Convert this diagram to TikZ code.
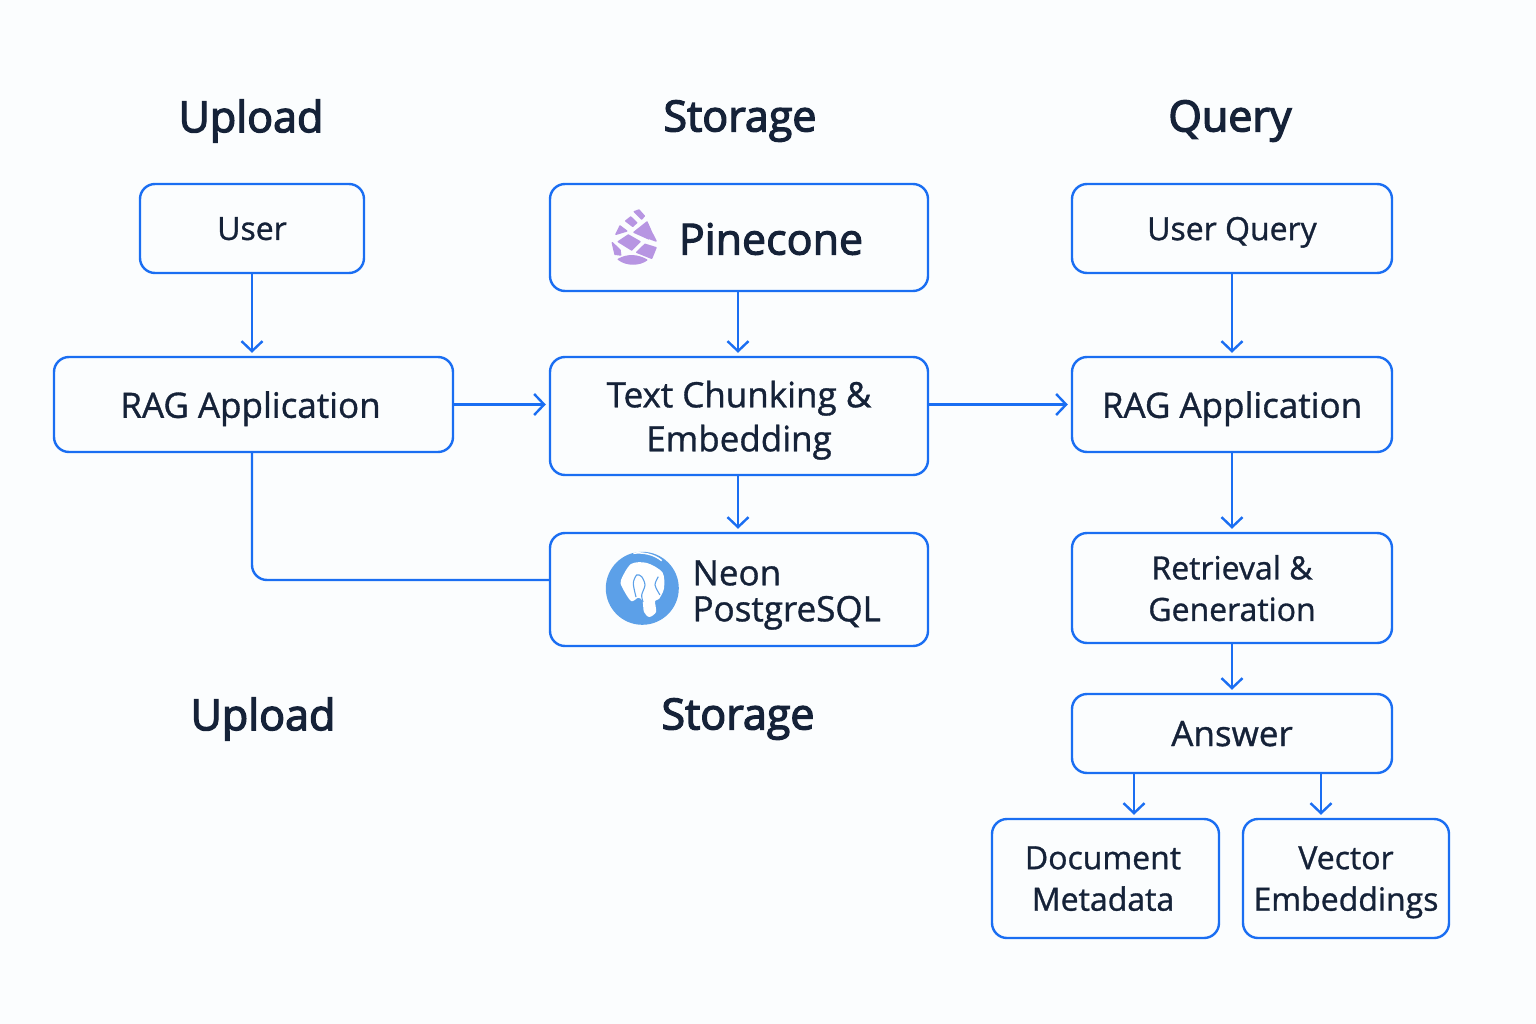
\documentclass[tikz,border=0pt]{standalone}
\usepackage{fontspec}
\setmainfont{Open Sans}
\usetikzlibrary{arrows.meta, positioning}
\usepackage{xcolor}
\definecolor{boxblue}{HTML}{1A6EF2}
\definecolor{inkdark}{HTML}{152238}
\definecolor{pagetint}{HTML}{FBFDFE}
\definecolor{conepurple}{HTML}{B795E2}
\definecolor{neonblue}{HTML}{5CA0E8}

\begin{document}
\begin{tikzpicture}[
x=1pt, y=-1pt,
node distance=84pt,
box/.style={draw=boxblue,
rectangle,
rounded corners=15pt,
line width=2.4pt,
text=inkdark,
text depth=0pt,
align=center,
inner sep=0pt},
arrow/.style={-{Straight Barb[length=10pt,width=21pt]}, draw=boxblue, line width=2.4pt, shorten >=3pt},
plain/.style={draw=boxblue, line width=2.4pt, rounded corners=15pt},
heading/.style={text=inkdark, font=\fontsize{43}{50}\selectfont\addfontfeature{FakeBold=3}},
small/.style={font=\fontsize{32}{41.5}\selectfont\addfontfeature{FakeBold=1}},
middle/.style={font=\fontsize{35}{44}\selectfont\addfontfeature{FakeBold=1}},
large/.style={font=\fontsize{43}{50}\selectfont\addfontfeature{FakeBold=2.5}}
]

\fill[pagetint] (0,0) rectangle (1536,1024);
\useasboundingbox (0,0) rectangle (1536,1024);

% upload column
\node[heading] (headupload) at (251,121) {Upload};
\node[box, small, minimum width=224pt, minimum height=89pt] (user) at (252,228.5) {User};
\node[box, middle, minimum width=399pt, minimum height=95pt] (ragupload) at (253.5,404.5) {\hspace*{-6pt}RAG Application};
\node[heading] (headuploadlow) at (263,719) {Upload};

% storage column
\node[heading] (headstorage) at (740,121) {Storage};
\node[box, minimum width=378pt, minimum height=107pt] (pinecone) at (739,237.5) {};
\node[large, text=inkdark] (pineconetext) at (771,239) {Pinecone};
\node[box, middle, minimum width=378pt, minimum height=118pt, below=63.6pt of pinecone] (chunk) {Text Chunking \&\\Embedding};
\node[box, minimum width=378pt, minimum height=113pt, below=55.6pt of chunk] (neon) {};
\node[text=inkdark, align=left, anchor=west, font=\fontsize{35}{36}\selectfont\addfontfeature{FakeBold=1}] (neontext) at (689,595) {Neon\\PostgreSQL};
\node[heading] (headstoragelow) at (738,719) {Storage};

% query column
\node[heading] (headquery) at (1230,121) {Query};
\node[box, small, minimum width=320pt, minimum height=89pt] (userquery) at (1232,228.5) {User Query};
\node[box, middle, minimum width=320pt, minimum height=95pt, below=81.6pt of userquery] (ragquery) {RAG Application};
\node[box, small, minimum width=320pt, minimum height=110pt, below=78.6pt of ragquery] (retrieval) {Retrieval \&\\Generation};
\node[box, middle, text depth=-3pt, minimum width=320pt, minimum height=79pt, below=48.6pt of retrieval] (answer) {Answer};
\node[box, small, text depth=-6pt, minimum width=227pt, minimum height=119pt] (document) at (1105.5,878.5) {\hspace*{-5pt}Document\\\hspace*{-5pt}Metadata};
\node[box, small, text depth=-6pt, minimum width=206pt, minimum height=119pt] (vector) at (1346,878.5) {Vector\\Embeddings};

% pinecone mark
\begin{scope}[fill=conepurple, draw=conepurple, line width=1.4pt, line join=round]
\filldraw (634.3,211.7) -- (639,210) -- (644.3,216) -- (641.7,219) -- cycle;
\filldraw (625.7,221) -- (630.7,217) -- (636.7,222.7) -- (632.7,226.3) -- cycle;
\filldraw (616,234.3) -- (620,226) -- (626.7,231) -- cycle;
\filldraw (634,232.3) -- (647,222) -- (652.3,234) -- (649,239) -- cycle;
\filldraw (650.5,239) -- (652.7,234.3) -- (656,241) -- cycle;
\filldraw (618.3,241.7) -- (628.3,235) -- (640,241.7) -- (631.7,250) -- cycle;
\filldraw (612.3,242.7) -- (620,250) -- (620.7,255) -- (615,254.3) -- cycle;
\filldraw (636.7,252.3) -- (645,244.3) -- (656,247.7) -- (651.7,258.3) -- cycle;
\filldraw (618.3,259.3) .. controls (628,254) and (638,255) .. (646.7,260) .. controls (640,265) and (627,266) .. (618.3,259.3) -- cycle;
\end{scope}

% neon mark
\fill[neonblue] (642.3,588.3) circle (36.5);
\fill[white] plot[smooth cycle] coordinates {(621,580) (631,564) (647,563) (662.5,572.5) (664,588.3) (659,599) (655,601) (656,612) (649.3,617) (644,612) (642.5,601) (638.3,597.7) (631,601) (622,587)};
\draw[neonblue, line width=1.1pt] plot[smooth] coordinates {(636,597) (633.3,583.3) (636.7,575) (641.7,576.7) (645,585) (641.7,595) (643,602)};
\draw[neonblue, line width=1.1pt] plot[smooth] coordinates {(658.3,576.7) (655,585) (660,595)};
\draw[white, line width=1.5pt] (633.3,553.3) .. controls (642,552) and (654,554) .. (661.7,560.7);

% connectors
\draw[arrow] (user) -- (user |- ragupload.north);
\draw[arrow] ([xshift=-1pt]pinecone.south) -- ([xshift=-1pt]chunk.north);
\draw[arrow] ([xshift=-1pt]chunk.south) -- ([xshift=-1pt]neon.north);
\draw[arrow] (userquery) -- (ragquery);
\draw[arrow] (ragquery) -- (retrieval);
\draw[arrow] (retrieval) -- (answer);
\draw[arrow] (ragupload.east) -- (ragupload.east -| chunk.west);
\draw[arrow] (ragquery.west -| chunk.east) -- (ragquery.west);
\draw[arrow] ([xshift=-98pt]answer.south) -- ([xshift=-98pt]answer.south |- document.north);
\draw[arrow] ([xshift=89pt]answer.south) -- ([xshift=89pt]answer.south |- vector.north);
\draw[plain] (user |- ragupload.south) |- ([yshift=9.5pt]neon.west);

\end{tikzpicture}
\end{document}
